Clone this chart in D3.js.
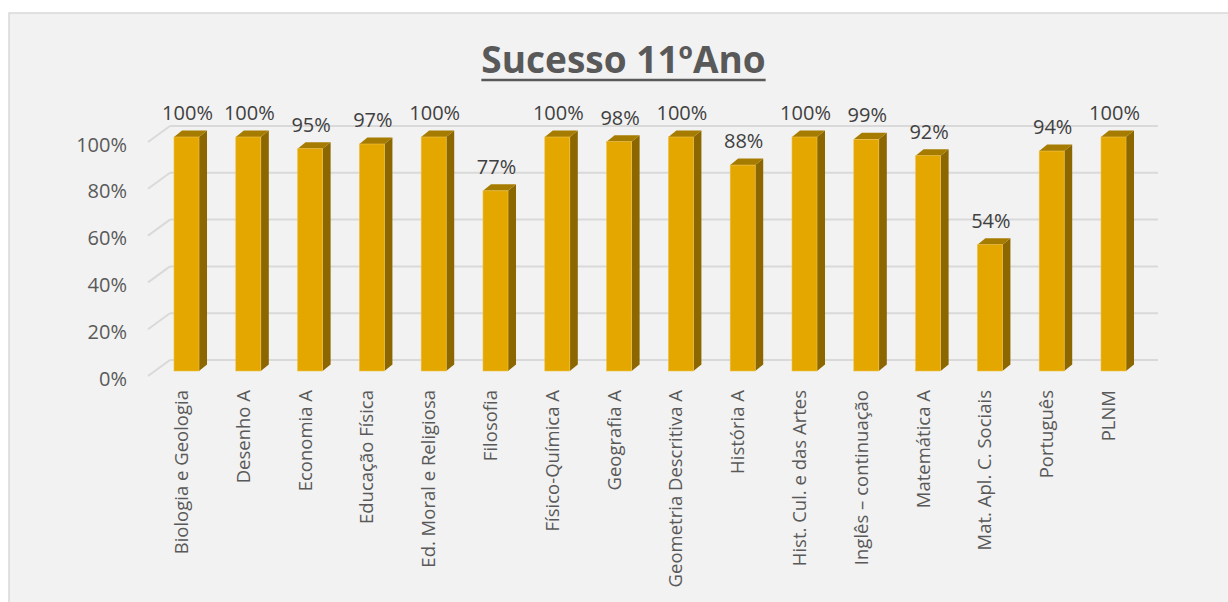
<!DOCTYPE html>
<html>
<head>
<meta charset="utf-8">
<script src="https://cdn.jsdelivr.net/npm/d3@7"></script>
<style>
  html, body { margin: 0; padding: 0; background: #ffffff; }
  svg { display: block; }
</style>
</head>
<body>
<svg id="chart" width="1228" height="602"></svg>
<script>
const title = "Sucesso 11ºAno";
const categories = [
  "Biologia e Geologia", "Desenho A", "Economia A", "Educação Física",
  "Ed. Moral e Religiosa", "Filosofia", "Físico-Química A", "Geografia A",
  "Geometria Descritiva A", "História A", "Hist. Cul. e das Artes",
  "Inglês – continuação", "Matemática A", "Mat. Apl. C. Sociais",
  "Português", "PLNM"
];
const values = [1.00, 1.00, 0.95, 0.97, 1.00, 0.77, 1.00, 0.98, 1.00, 0.88, 1.00, 0.99, 0.92, 0.54, 0.94, 1.00];
const yTicks = [0, 0.2, 0.4, 0.6, 0.8, 1.0];

const svg = d3.select("#chart");
const W = 1228, H = 602;

// chart area background
svg.append("rect")
  .attr("x", 9).attr("y", 13)
  .attr("width", W + 10).attr("height", H + 10)
  .attr("fill", "#f2f2f2")
  .attr("stroke", "#d9d9d9").attr("stroke-width", 1.5);

// scales
const x = d3.scaleBand()
  .domain(categories)
  .range([155.6, 1144.4])
  .paddingInner(0.595)
  .paddingOuter(0.2975);

const y = d3.scaleLinear().domain([0, 1]).range([376, 142]);

const depthX = 22, depthY = 16;     // floor/wall depth
const barOffY = 5;                  // bars sit slightly behind front
const bdx = 8, bdy = 6.5;           // bar depth
const gridX0 = 148, gridX1 = 1158;

// gridlines (back wall + floor diagonal)
const grid = svg.append("g");
yTicks.forEach(t => {
  const yy = y(t);
  grid.append("line")
    .attr("x1", gridX0 + depthX).attr("x2", gridX1)
    .attr("y1", yy - depthY).attr("y2", yy - depthY)
    .attr("stroke", "#d9d9d9").attr("stroke-width", 2);
  grid.append("line")
    .attr("x1", gridX0).attr("y1", yy)
    .attr("x2", gridX0 + depthX).attr("y2", yy - depthY)
    .attr("stroke", "#d9d9d9").attr("stroke-width", 2);
});

// y axis labels
const yAxis = d3.axisLeft(y).tickValues(yTicks).tickFormat(d3.format(".0%")).tickSize(0).tickPadding(0);
const yg = svg.append("g").attr("transform", "translate(127,0)").call(yAxis);
yg.select(".domain").remove();
yg.selectAll("text")
  .attr("font-family", "'Open Sans', sans-serif")
  .attr("font-size", 20)
  .attr("fill", "#595959")
  .attr("dy", "0.38em")
  .attr("y", 1.5);

// bars
const bars = svg.append("g");
const bw = x.bandwidth();
categories.forEach((c, i) => {
  const v = values[i];
  const x0 = x(c), x1 = x0 + bw;
  const yT = y(v) - barOffY, yB = y(0) - barOffY;
  const g = bars.append("g");
  // side
  g.append("path")
    .attr("d", `M${x1},${yT}L${x1 + bdx},${yT - bdy}L${x1 + bdx},${yB - bdy}L${x1},${yB}Z`)
    .attr("fill", "#8c6700");
  // top
  g.append("path")
    .attr("d", `M${x0},${yT}L${x0 + bdx},${yT - bdy}L${x1 + bdx},${yT - bdy}L${x1},${yT}Z`)
    .attr("fill", "#a67c00");
  // front
  g.append("rect")
    .attr("x", x0).attr("y", yT)
    .attr("width", bw).attr("height", yB - yT)
    .attr("fill", "#e3a700")
    .attr("stroke", "#efc24a").attr("stroke-width", 0.6);
  // data label
  svg.append("text")
    .attr("x", x0 + bw / 2 + 1)
    .attr("y", y(v) - 22)
    .attr("text-anchor", "middle")
    .attr("font-family", "'Open Sans', sans-serif")
    .attr("font-size", 20)
    .attr("fill", "#404040")
    .text(d3.format(".0%")(v));
});

// x axis labels (rotated)
const xAxis = d3.axisBottom(x).tickSize(0).tickPadding(0);
const xg = svg.append("g").attr("transform", "translate(0,390)").call(xAxis);
xg.select(".domain").remove();
xg.selectAll(".tick text")
  .attr("font-family", "'Open Sans', sans-serif")
  .attr("font-size", 18.5)
  .attr("fill", "#595959")
  .attr("text-anchor", "end")
  .attr("dy", 0)
  .attr("y", 0)
  .attr("transform", "translate(1.5,0) rotate(-90)");

// title
const tt = svg.append("text")
  .attr("x", 623.5).attr("y", 73)
  .attr("text-anchor", "middle")
  .attr("font-family", "'Open Sans', sans-serif")
  .attr("font-weight", "bold")
  .attr("font-size", 37)
  .attr("fill", "#595959")
  .text(title);
const tw = tt.node().getComputedTextLength();
svg.append("line")
  .attr("x1", 623.5 - tw / 2).attr("x2", 623.5 + tw / 2)
  .attr("y1", 80).attr("y2", 80)
  .attr("stroke", "#595959").attr("stroke-width", 2.5);
</script>
</body>
</html>
